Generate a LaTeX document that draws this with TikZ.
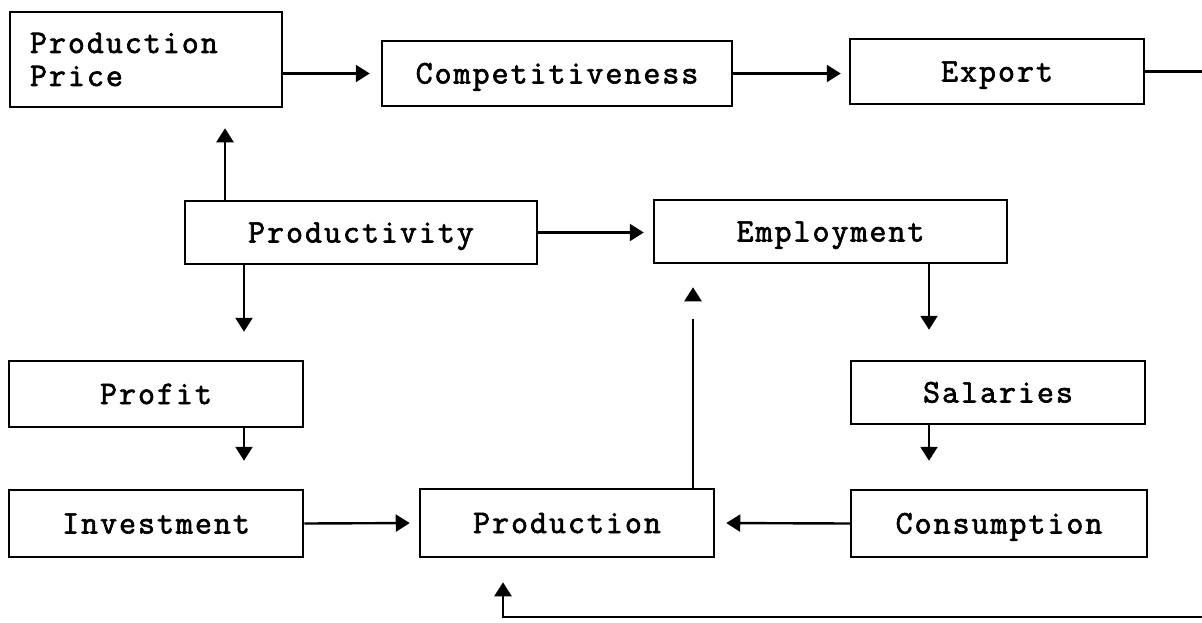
\documentclass[tikz,border=0pt]{standalone}
\usepackage{fontspec}
\newfontfamily\boxfont{Latin Modern Mono}[LetterSpace=6, FakeBold=2]
\usetikzlibrary{arrows.meta}
\begin{document}
\begin{tikzpicture}[x=1pt, y=-1pt,
  box/.style={draw, line width=2.5pt, inner sep=0pt,
    font=\boxfont\fontsize{33}{33}\selectfont},
  oneline/.style={text height=20pt, text depth=0pt},
  link/.style={line width=2.4pt},
  arr/.style={link, -{Triangle[length=14pt, width=17pt]}}]

\useasboundingbox (0,0) rectangle (1202,622);

% boxes
\node[box, minimum width=272pt, minimum height=95pt, text width=232pt, align=left]
  (pp) at (146,59.5) {Production\\Price};
\node[box, oneline, minimum width=350pt, minimum height=65pt] (comp) at (557,73.5) {Competitiveness};
\node[box, oneline, minimum width=294pt, minimum height=65pt] (exp) at (997,71.5) {Export};
\node[box, oneline, minimum width=352pt, minimum height=63pt] (prodv) at (361,232.5) {Productivity};
\node[box, oneline, minimum width=353pt, minimum height=63pt] (empl) at (830.5,231.5) {Employment};
\node[box, oneline, minimum width=294pt, minimum height=66pt] (prof) at (156,394) {Profit};
\node[box, oneline, minimum width=294pt, minimum height=63pt] (sal) at (998,392.5) {Salaries};
\node[box, oneline, minimum width=294pt, minimum height=67pt] (inv) at (156,523.5) {Investment};
\node[box, oneline, minimum width=294pt, minimum height=68pt] (prodn) at (567,523) {Production};
\node[box, oneline, minimum width=296pt, minimum height=67pt] (cons) at (999,523.5) {Consumption};

% helper coordinates for the vertical connectors and the return loop
\coordinate (xa) at (225,0);
\coordinate (xb) at (244,0);
\coordinate (xc) at (929,0);
\coordinate (xd) at (693,0);
\coordinate (gaplow) at (693,319);
\coordinate (gaphigh) at (693,300);
\coordinate (loopR) at (1240,617);
\coordinate (loopL) at (503,617);

% top row
\draw[arr, shorten >=11pt] (pp.east |- comp.west) -- (comp.west);
\draw[arr, shorten >=8pt] (comp.east) -- (comp.east -| exp.west);

% productivity
\draw[arr, shorten >=20pt] (prodv.north -| xa) -- (pp.south -| xa);
\draw[arr, shorten >=28pt] (prodv.south -| xb) -- (prof.north -| xb);
\draw[arr, shorten >=9pt] (prodv.east) -- (prodv.east -| empl.west);

% left column
\draw[arr, shorten >=28pt] (prof.south -| xb) -- (inv.north -| xb);
\draw[arr, shorten >=9pt] (inv.east) -- (prodn.west);

% right column
\draw[arr, shorten >=30pt] (empl.south -| xc) -- (sal.north -| xc);
\draw[arr, shorten >=28pt] (sal.south -| xc) -- (cons.north -| xc);
\draw[arr, shorten >=11pt] (cons.west) -- (prodn.east);

% production back to employment (broken line)
\draw[link] (prodn.north -| xd) -- (gaplow);
\draw[arr, shorten >=23pt] (gaphigh) -- (empl.south -| xd);

% export loop back into production
\draw[arr, shorten >=24pt] (exp.east) -| (loopR) -- (loopL) -- (prodn.south -| loopL);

\end{tikzpicture}
\end{document}
